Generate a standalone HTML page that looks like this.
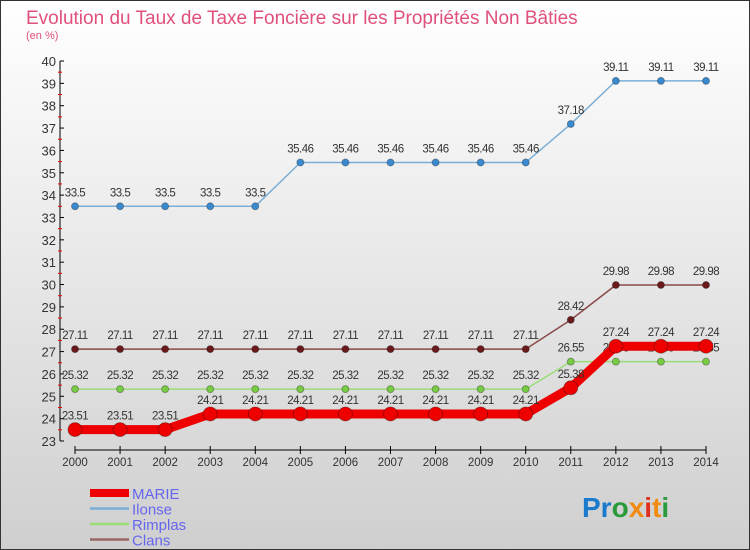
<!DOCTYPE html>
<html><head><meta charset="utf-8"><style>
body{margin:0;width:750px;height:550px;overflow:hidden;font-family:"Liberation Sans",sans-serif}
svg{display:block}
</style></head><body>
<svg id="c" width="750" height="550" xmlns="http://www.w3.org/2000/svg">
<defs><linearGradient id="bg" x1="0" y1="0" x2="0" y2="1"><stop offset="0" stop-color="#ffffff"/><stop offset="1" stop-color="#cfcfcf"/></linearGradient></defs>
<rect x="0.5" y="0.5" width="749" height="549" fill="url(#bg)" stroke="#333"/>
<text x="26" y="24" font-size="19" fill="#e0507a">Evolution du Taux de Taxe Foncière sur les Propriétés Non Bâties</text>
<text x="26" y="39" font-size="11" fill="#e0507a">(en %)</text>
<g id="axes"></g><g id="series"></g><g id="legend"></g>
<g font-size="28" font-weight="bold">
<text x="582" y="517"><tspan fill="#1a7acc">Pr</tspan><tspan fill="#2a9a3a">o</tspan><tspan fill="#f08a10">x</tspan><tspan fill="#e03020">i</tspan><tspan fill="#f08a10">t</tspan><tspan fill="#2a9a3a">i</tspan></text>
</g>
</svg>
<script>
const years=[2000,2001,2002,2003,2004,2005,2006,2007,2008,2009,2010,2011,2012,2013,2014];
const yTicks=[23,24,25,26,27,28,29,30,31,32,33,34,35,36,37,38,39,40];
const marie=[23.51,23.51,23.51,24.21,24.21,24.21,24.21,24.21,24.21,24.21,24.21,25.38,27.24,27.24,27.24];
const ilonse=[33.5,33.5,33.5,33.5,33.5,35.46,35.46,35.46,35.46,35.46,35.46,37.18,39.11,39.11,39.11];
const rimplas=[25.32,25.32,25.32,25.32,25.32,25.32,25.32,25.32,25.32,25.32,25.32,26.55,26.55,26.55,26.55];
const clans=[27.11,27.11,27.11,27.11,27.11,27.11,27.11,27.11,27.11,27.11,27.11,28.42,29.98,29.98,29.98];
const NS="http://www.w3.org/2000/svg";
const X=i=>75+i*(706-75)/(years.length-1);
const Y=v=>61+(40-v)*(441-61)/17;
function mk(t,a,p){const e=document.createElementNS(NS,t);for(const k in a)e.setAttribute(k,a[k]);p.appendChild(e);return e;}
const ax=document.getElementById('axes');
let yl=mk('line',{x1:60,y1:61,x2:60,y2:441,stroke:'#000'},ax);


yTicks.forEach(v=>{
 mk('line',{x1:60,x2:64,y1:Y(v),y2:Y(v),stroke:'#000'},ax);
 if(v<40)mk('line',{x1:58,x2:62,y1:Y(v+0.5),y2:Y(v+0.5),stroke:'#e00'},ax);
 const t=mk('text',{x:56,y:Y(v)+5,'text-anchor':'end','font-size':13,fill:'#333'},ax);t.textContent=v;
 
 
});
let xl=mk('line',{x1:75,y1:450,x2:706,y2:450,stroke:'#000'},ax);


years.forEach((y,i)=>{
 mk('line',{x1:X(i),x2:X(i),y1:446,y2:454,stroke:'#000'},ax);
 const t=mk('text',{x:X(i),y:466,'text-anchor':'middle','font-size':11.5,fill:'#333'},ax);t.textContent=y;
 
 
});
const sg=document.getElementById('series');
function series(name,data,color,w,r,dot){
 const g=mk('g',{},sg);
 
 
 const pl=mk('polyline',{points:data.map((v,i)=>X(i)+','+Y(v)).join(' '),fill:'none',stroke:color,'stroke-width':w,'stroke-linejoin':'round'},g);
 
 
 data.forEach((v,i)=>{
  const c=mk('circle',{cx:X(i),cy:Y(v),r:r,fill:dot,stroke:'rgba(0,0,0,0.3)','stroke-width':1},g);
  
  
  const t=mk('text',{x:X(i),y:Y(v)-10,'text-anchor':'middle','font-size':11.5,fill:'#333','letter-spacing':'-0.5'},g);
  t.textContent=v;
  
  
 });
}
series('ilonse',ilonse,'#7aaed6',1.5,3.5,'#3a8ad0');
series('clans',clans,'#8a4a4a',1.5,3.5,'#6a1a1a');
series('rimplas',rimplas,'#99dd77',1.5,3.5,'#77cc44');
series('marie',marie,'#ee0000',9,7,'#ee0000');
const lg=document.getElementById('legend');
[['MARIE','#ee0000',8],['Ilonse','#7aaed6',2.5],['Rimplas','#99dd77',2.5],['Clans','#996666',2.5]].forEach((d,i)=>{
 const yy=493+i*15.5;
 const g=mk('g',{},lg);
 
 
 mk('line',{x1:90,x2:129,y1:yy,y2:yy,stroke:d[1],'stroke-width':d[2]},g);
 const t=mk('text',{x:132,y:yy+6,'font-size':15,fill:'#6666ee'},g);t.textContent=d[0];
});
</script>
</body></html>
